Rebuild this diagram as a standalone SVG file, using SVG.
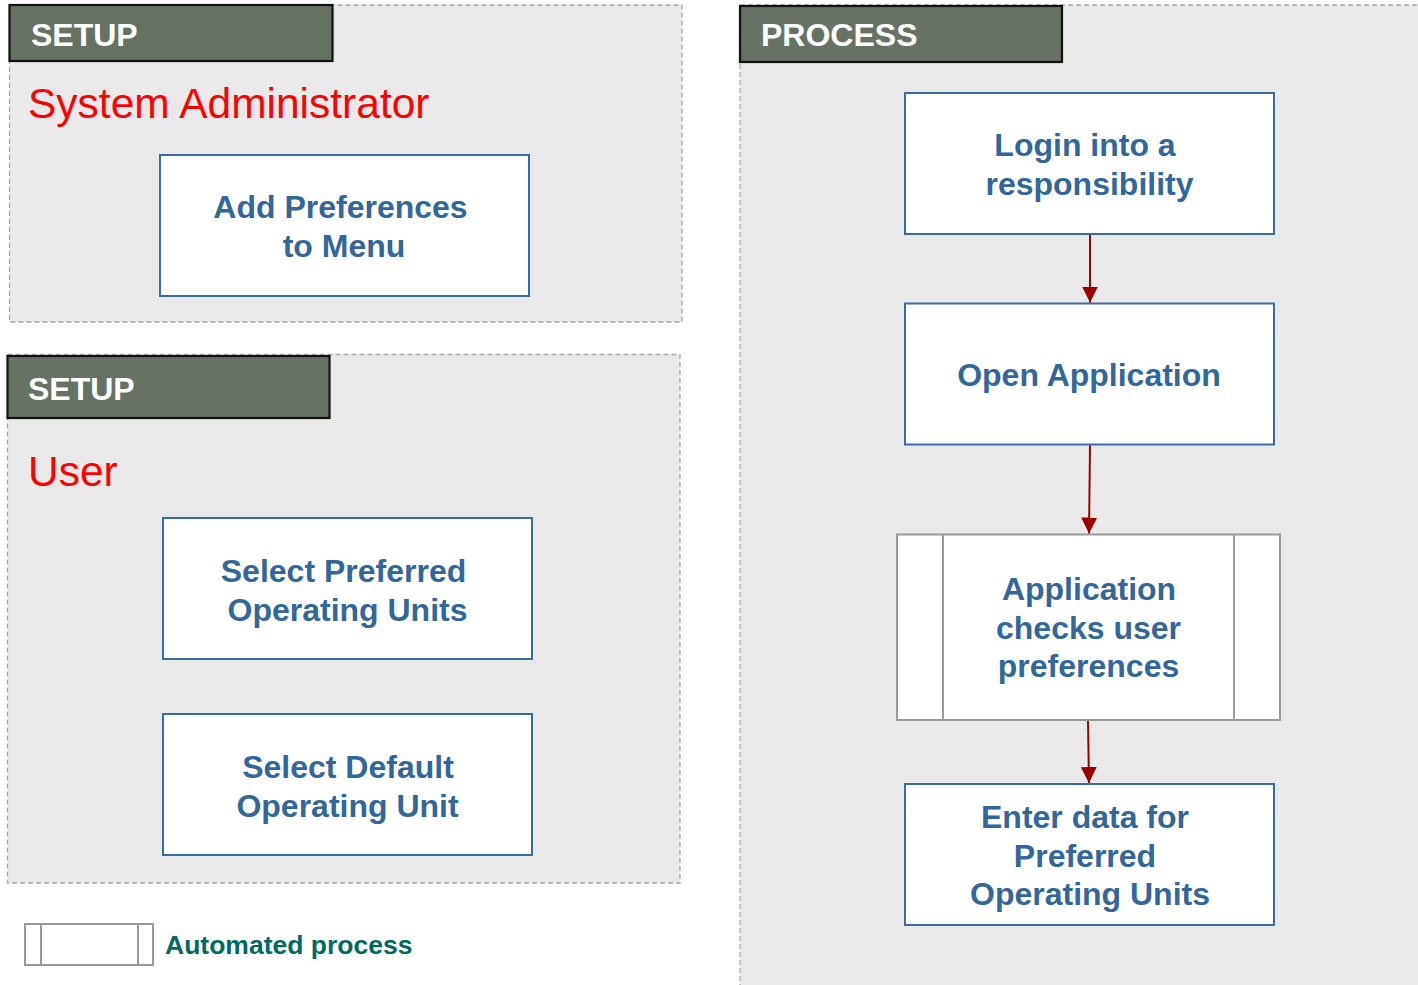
<svg xmlns="http://www.w3.org/2000/svg" width="1418" height="985" viewBox="0 0 1418 985">
<defs>
<style>
.panel{fill:#e9e9e9;stroke:#a6a6a6;stroke-width:1.3;stroke-dasharray:5,3}
.hdr{fill:#667263;stroke:#111;stroke-width:2.2}
.hdrt{font-family:"Liberation Sans",Arial,sans-serif;font-weight:bold;font-size:32px;fill:#ffffff}
.role{font-family:"Liberation Sans",Arial,sans-serif;font-size:42.5px;fill:#ff0000}
.box{fill:#ffffff;stroke:#3a6ba3;stroke-width:2}
.abox{fill:#ffffff;stroke:#999999;stroke-width:2}
.t{font-family:"Liberation Sans",Arial,sans-serif;font-weight:bold;font-size:32px;fill:#336699;text-anchor:middle}
.leg{font-family:"Liberation Sans",Arial,sans-serif;font-weight:bold;font-size:26.5px;fill:#006a5f}
.conn{stroke:#990000;stroke-width:2;fill:none}
</style>
<marker id="arr" markerUnits="userSpaceOnUse" markerWidth="16" markerHeight="16" viewBox="0 0 16 16" refX="16" refY="8" orient="auto">
<path d="M0,0 L16,8 L0,16 z" fill="#990000"/>
</marker>
</defs>
<rect width="1418" height="985" fill="#ffffff"/>

<g id="panel-setup-admin">
<rect class="panel" x="9.5" y="5" width="672.5" height="317"/>
<rect class="hdr" x="9.5" y="5" width="323" height="56"/>
<text class="hdrt" x="31" y="46">SETUP</text>
<text class="role" x="28" y="118">System Administrator</text>
</g>

<g id="panel-setup-user">
<rect class="panel" x="7.5" y="354.5" width="672.5" height="528.5"/>
<rect class="hdr" x="7.5" y="356" width="322" height="62"/>
<text class="hdrt" x="28" y="400">SETUP</text>
<text class="role" x="28" y="486">User</text>
</g>

<g id="panel-process">
<rect class="panel" x="740" y="5" width="700" height="1000"/>
<rect class="hdr" x="740" y="6" width="322" height="56"/>
<text class="hdrt" x="761" y="46">PROCESS</text>
</g>

<g id="node-add-preferences">
<rect class="box" x="160" y="155" width="369" height="141"/>
<text class="t" x="340.5" y="218">Add Preferences</text>
<text class="t" x="344" y="257">to Menu</text>
</g>

<g id="node-select-preferred">
<rect class="box" x="163" y="518" width="369" height="141"/>
<text class="t" x="343.5" y="582">Select Preferred</text>
<text class="t" x="347.5" y="621">Operating Units</text>
</g>

<g id="node-select-default">
<rect class="box" x="163" y="714" width="369" height="141"/>
<text class="t" x="348" y="778">Select Default</text>
<text class="t" x="347.5" y="817">Operating Unit</text>
</g>

<g id="node-login">
<rect class="box" x="905" y="93" width="369" height="141"/>
<text class="t" x="1085" y="156">Login into a</text>
<text class="t" x="1089.5" y="195">responsibility</text>
</g>

<g id="node-open-application">
<rect class="box" x="905" y="303.5" width="369" height="141"/>
<text class="t" x="1089" y="386">Open Application</text>
</g>

<g id="node-app-checks">
<rect class="abox" x="897" y="534.5" width="383" height="185.5"/>
<line x1="943" y1="534.5" x2="943" y2="720" stroke="#999999" stroke-width="2"/>
<line x1="1234" y1="534.5" x2="1234" y2="720" stroke="#999999" stroke-width="2"/>
<text class="t" x="1089" y="600">Application</text>
<text class="t" x="1088.5" y="638.5">checks user</text>
<text class="t" x="1088.5" y="677">preferences</text>
</g>

<g id="node-enter-data">
<rect class="box" x="905" y="784" width="369" height="141"/>
<text class="t" x="1085" y="828">Enter data for</text>
<text class="t" x="1085" y="867">Preferred</text>
<text class="t" x="1090" y="905">Operating Units</text>
</g>

<g id="connectors">
<line class="conn" x1="1090" y1="235" x2="1090" y2="302.5" marker-end="url(#arr)"/>
<line class="conn" x1="1090" y1="445.5" x2="1089" y2="533.5" marker-end="url(#arr)"/>
<line class="conn" x1="1088" y1="721" x2="1089" y2="783" marker-end="url(#arr)"/>
</g>

<g id="legend">
<rect class="abox" x="25" y="924" width="128" height="41"/>
<line x1="41" y1="924" x2="41" y2="965" stroke="#999999" stroke-width="2"/>
<line x1="138" y1="924" x2="138" y2="965" stroke="#999999" stroke-width="2"/>
<text class="leg" x="165" y="954">Automated process</text>
</g>
</svg>
